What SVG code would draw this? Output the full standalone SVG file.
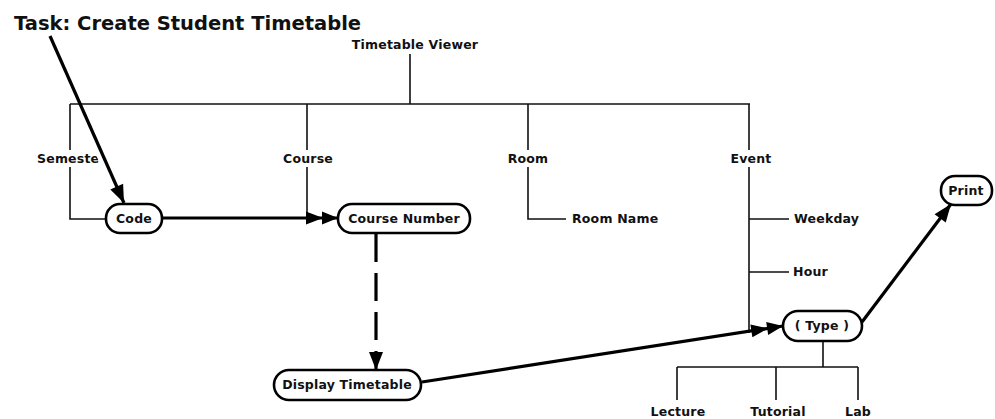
<svg xmlns="http://www.w3.org/2000/svg" width="995" height="419" viewBox="0 0 995 419">
  <style>
    .tree { fill: none; stroke: #111; stroke-width: 1.6; }
    .flow { fill: none; stroke: #000; stroke-width: 3.2; }
    .box { fill: #fff; stroke: #000; stroke-width: 2.6; }
    .lbl { font-family: "DejaVu Sans", "Liberation Sans", sans-serif; font-weight: bold; font-size: 12.5px; letter-spacing: 0.2px; fill: #111; text-anchor: middle; }
    .title { font-family: "DejaVu Sans", "Liberation Sans", sans-serif; font-weight: bold; font-size: 19.5px; fill: #111; }
  </style>
  <defs>
    <marker id="head" markerUnits="userSpaceOnUse" markerWidth="24" markerHeight="20" viewBox="-20 -10 22 20" refX="0" refY="0" orient="auto">
      <path d="M0,0 L-18,-7 L-18,7 Z" fill="#000"/>
    </marker>
    <marker id="head2" markerUnits="userSpaceOnUse" markerWidth="40" markerHeight="20" viewBox="-36 -10 38 20" refX="0" refY="0" orient="auto">
      <path d="M0,0 L-16,-6.5 L-16,6.5 Z M-15,0 L-32,-6.5 L-32,6.5 Z" fill="#000"/>
    </marker>
  </defs>

  <text class="title" x="14" y="30">Task: Create Student Timetable</text>

  <!-- attribute tree -->
  <g id="tree">
    <text class="lbl" x="415" y="49">Timetable Viewer</text>
    <path class="tree" d="M410,54 V104 M70,104 H750"/>
    <!-- Semester -->
    <path class="tree" d="M70,104 V150 M70,167 V219 H106"/>
    <text class="lbl" x="37" y="163" style="text-anchor:start">Semester</text>
    <!-- Course -->
    <path class="tree" d="M307,104 V150 M307,167 V218"/>
    <text class="lbl" x="308" y="163">Course</text>
    <!-- Room -->
    <path class="tree" d="M528,104 V150 M528,167 V219 H566"/>
    <text class="lbl" x="528" y="163">Room</text>
    <text class="lbl" x="572" y="223" style="text-anchor:start">Room Name</text>
    <!-- Event -->
    <path class="tree" d="M749,104 V150 M749,167 V333 M749,219 H789 M749,272 H789"/>
    <text class="lbl" x="751" y="163">Event</text>
    <text class="lbl" x="794" y="223" style="text-anchor:start">Weekday</text>
    <text class="lbl" x="793" y="276" style="text-anchor:start">Hour</text>
    <!-- Type values -->
    <path class="tree" d="M823,341 V367 M677,367 H858 M677,367 V400 M776,367 V400 M858,367 V400"/>
    <text class="lbl" x="678" y="416">Lecture</text>
    <text class="lbl" x="778" y="416">Tutorial</text>
    <text class="lbl" x="858" y="416">Lab</text>
  </g>

  <!-- task flow connectors -->
  <g id="connectors">
    <line x1="91" y1="130" x2="114" y2="182" stroke="#fff" stroke-width="11"/>
    <line class="flow" x1="50" y1="36" x2="124" y2="203" marker-end="url(#head)"/>
    <line class="flow" x1="163" y1="218" x2="338" y2="218" marker-end="url(#head2)"/>
    <line class="flow" x1="376" y1="234" x2="376" y2="370" stroke-dasharray="28 11" marker-end="url(#head)"/>
    <line class="flow" x1="422" y1="382" x2="783" y2="326" marker-end="url(#head2)"/>
    <line class="flow" x1="862" y1="322" x2="951" y2="204" marker-end="url(#head)"/>
  </g>

  <g id="node-code">
    <rect class="box" x="106" y="204" width="56" height="29" rx="14"/>
    <text class="lbl" x="134" y="223">Code</text>
  </g>
  <g id="node-course-number">
    <rect class="box" x="338" y="204" width="132" height="29" rx="14"/>
    <text class="lbl" x="404" y="223">Course Number</text>
  </g>
  <g id="node-display-timetable">
    <rect class="box" x="274" y="370" width="147" height="30" rx="15"/>
    <text class="lbl" x="347" y="389">Display Timetable</text>
  </g>
  <g id="node-type">
    <rect class="box" x="783" y="311" width="79" height="30" rx="15"/>
    <text class="lbl" x="822" y="330">( Type )</text>
  </g>
  <g id="node-print">
    <rect class="box" x="941" y="176" width="51" height="29" rx="14"/>
    <text class="lbl" x="966" y="195">Print</text>
  </g>
</svg>
